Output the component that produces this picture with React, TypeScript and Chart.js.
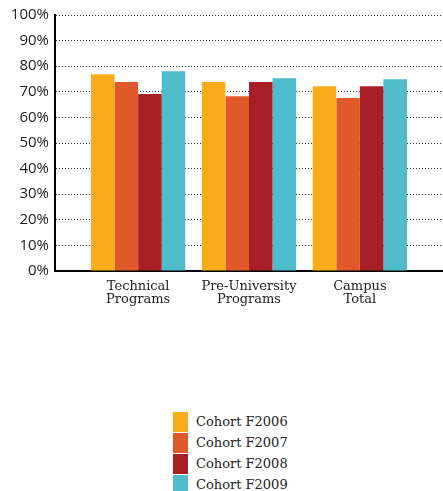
import React, { useEffect, useRef } from "react";
import { Chart, registerables } from "chart.js";

Chart.register(...registerables);

// Program groups along the bottom axis
const categories: string[][] = [
  ["Technical", "Programs"],
  ["Pre-University", "Programs"],
  ["Campus", "Total"],
];

// Cohort series (percent)
const cohortNames = ["Cohort F2006", "Cohort F2007", "Cohort F2008", "Cohort F2009"];
const f2006 = [76.9, 73.8, 72.2];
const f2007 = [73.8, 68.3, 67.6];
const f2008 = [69.1, 73.8, 72.2];
const f2009 = [78.0, 75.3, 74.9];
const cohortColors = ["#F9AC1A", "#E0592A", "#A71E25", "#4EBCCA"];

const seriesValues = [f2006, f2007, f2008, f2009];

const W = 443;
const CANVAS_H = 320;
const SERIF = "'DejaVu Serif', serif";
const SANS = "'Open Sans', sans-serif";

export default function App() {
  const canvasRef = useRef<HTMLCanvasElement | null>(null);

  useEffect(() => {
    document.body.style.margin = "0";
    const canvas = canvasRef.current;
    if (!canvas) return;

    const chart = new Chart(canvas, {
      type: "bar",
      data: {
        datasets: seriesValues.map((vals, i) => ({
          label: cohortNames[i],
          data: vals.map((v, j) => ({ x: j, y: v })),
          backgroundColor: cohortColors[i],
          borderWidth: 0,
          categoryPercentage: 0.85,
          barPercentage: 1,
        })),
      },
      options: {
        animation: false,
        responsive: false,
        maintainAspectRatio: false,
        layout: { padding: { top: 13, left: 0, right: 0, bottom: 0 } },
        plugins: {
          legend: { display: false },
          tooltip: { enabled: false },
        },
        scales: {
          x: {
            type: "linear",
            min: -0.75,
            max: 2.75,
            bounds: "data",
            offset: false,
            afterFit: (s: any) => {
              s.height = CANVAS_H - 271;
            },
            afterBuildTicks: (s: any) => {
              s.ticks = categories.map((_, i) => ({ value: i }));
            },
            ticks: {
              autoSkip: false,
              maxRotation: 0,
              padding: 1,
              color: "#222",
              font: { family: SERIF, size: 13, lineHeight: 1.0 },
              callback: (value: any) =>
                Number.isInteger(value) && categories[value] ? categories[value] : "",
            },
            grid: { display: false },
            border: { display: true, color: "#000", width: 2 },
          },
          y: {
            min: 0,
            max: 100,
            afterFit: (s: any) => {
              s.width = 55;
            },
            ticks: {
              stepSize: 10,
              padding: 6,
              color: "#222",
              font: { family: SANS, size: 15 },
              callback: (value: any) => `${value}%`,
            },
            grid: { color: "#333", lineWidth: 1, drawTicks: false },
            border: { display: true, color: "#000", width: 2, dash: [1, 2] },
          },
        },
      },
    });

    return () => chart.destroy();
  }, []);

  return (
    <div style={{ position: "relative", width: W, height: 491, background: "#fff" }}>
      <canvas ref={canvasRef} width={W} height={CANVAS_H} style={{ display: "block" }} />
      <div style={{ position: "absolute", left: 173, top: 411 }}>
        {cohortNames.map((name, i) => (
          <div
            key={name}
            style={{ display: "flex", alignItems: "center", height: 21 }}
          >
            <div style={{ width: 15, height: 20, background: cohortColors[i] }} />
            <span
              style={{
                marginLeft: 8,
                fontFamily: SERIF,
                fontSize: 13,
                color: "#222",
                lineHeight: "20px",
              }}
            >
              {name}
            </span>
          </div>
        ))}
      </div>
    </div>
  );
}
